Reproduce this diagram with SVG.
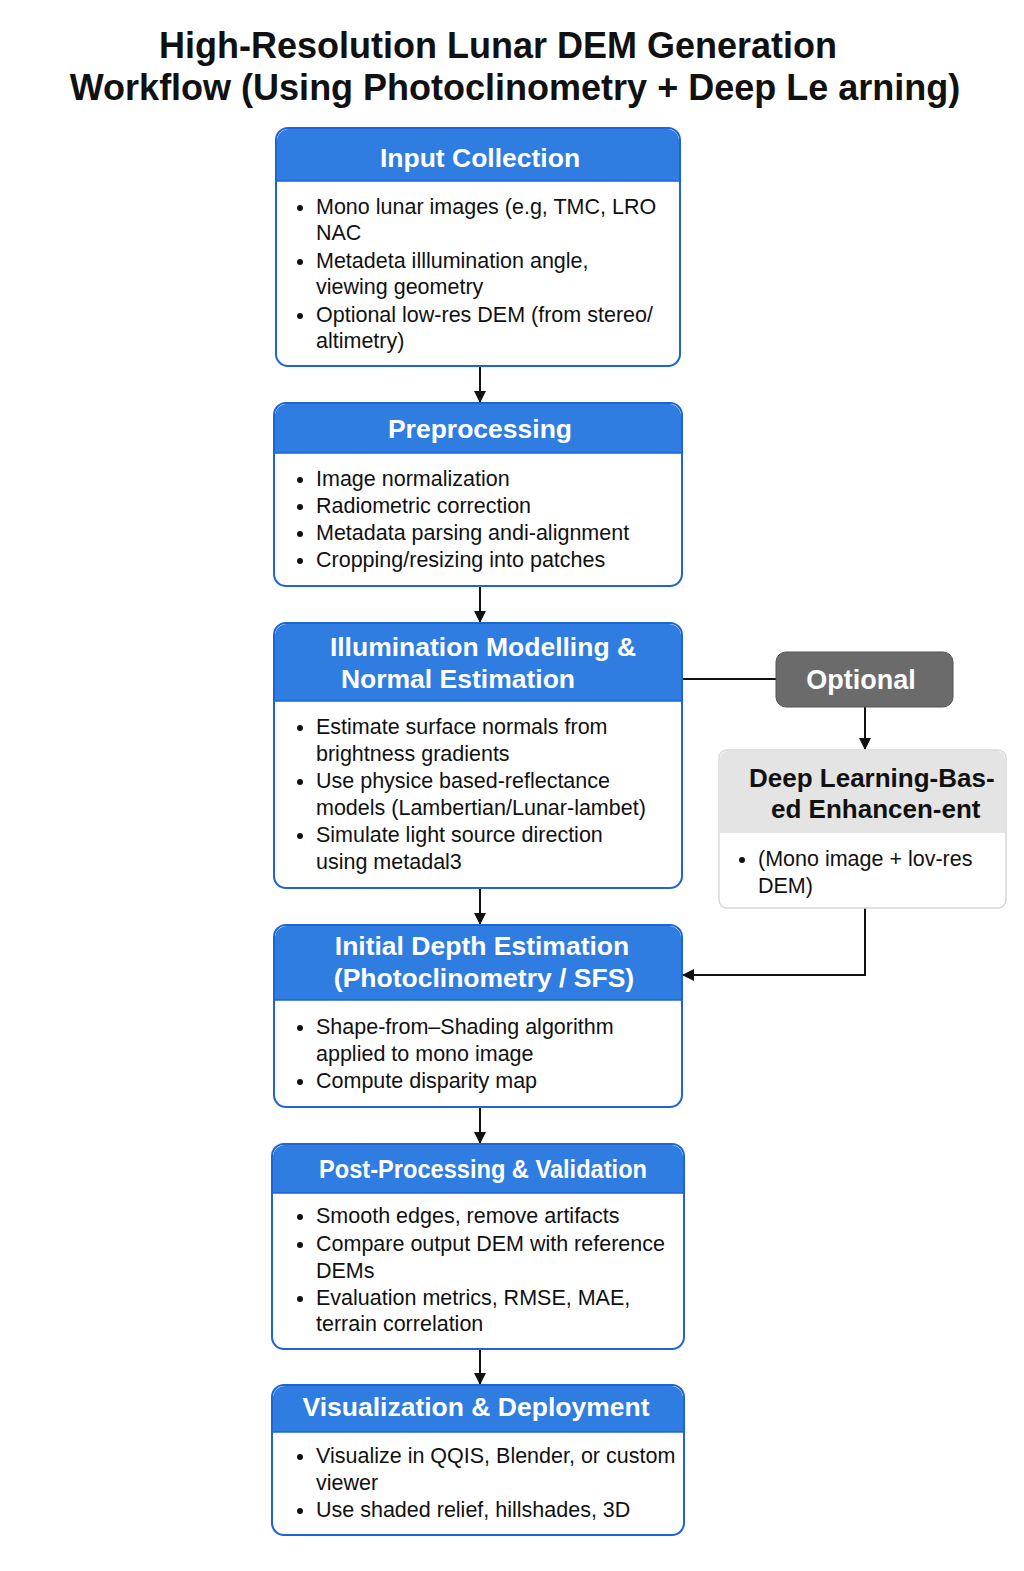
<svg xmlns="http://www.w3.org/2000/svg" width="1024" height="1571" viewBox="0 0 1024 1571">
<defs>
<marker id="arr" markerWidth="12" markerHeight="12" refX="11" refY="6" orient="auto" markerUnits="userSpaceOnUse">
<path d="M0,0 L12,6 L0,12 Z" fill="#111"/>
</marker>
</defs>
<style>
.title{font-family:"Liberation Sans",Arial,sans-serif;font-weight:bold;font-size:36px;fill:#111;}
.hdr{fill:#2f7de1;}
.box{fill:#fff;stroke:#1e63d8;stroke-width:2;}
.ht{font-family:"Liberation Sans",Arial,sans-serif;font-weight:bold;font-size:26.5px;fill:#fff;text-anchor:middle;}
.bt{font-family:"Liberation Sans",Arial,sans-serif;font-size:21.5px;fill:#111;}
.dot{fill:#111;}
.conn{stroke:#111;stroke-width:2;fill:none;}
.dlt{font-family:"Liberation Sans",Arial,sans-serif;font-weight:bold;font-size:26px;fill:#111;}
</style>
<rect width="1024" height="1571" fill="#fff"/>
<g id="title">
<text class="title" x="498" y="58" text-anchor="middle">High-Resolution Lunar DEM Generation</text>
<text class="title" x="515" y="100" text-anchor="middle">Workflow (Using Photoclinometry + Deep Le arning)</text>
</g>
<g id="connectors">
<line class="conn" x1="480" y1="366" x2="480" y2="402" marker-end="url(#arr)"/>
<line class="conn" x1="480" y1="586" x2="480" y2="622" marker-end="url(#arr)"/>
<line class="conn" x1="480" y1="888" x2="480" y2="924" marker-end="url(#arr)"/>
<line class="conn" x1="480" y1="1107" x2="480" y2="1143" marker-end="url(#arr)"/>
<line class="conn" x1="480" y1="1349" x2="480" y2="1384" marker-end="url(#arr)"/>
<line class="conn" x1="682" y1="679" x2="776" y2="679"/>
<line class="conn" x1="865" y1="707" x2="865" y2="749" marker-end="url(#arr)"/>
<polyline class="conn" points="865,908 865,975 683,975" marker-end="url(#arr)"/>
</g>
<g id="input-collection">
<rect class="box" x="276" y="128" width="404" height="238" rx="12"/>
<path class="hdr" d="M277,181 V141 A12,12 0 0 1 289,129 H667 A12,12 0 0 1 679,141 V181 Z"/>
<line x1="277" y1="181" x2="679" y2="181" stroke="#1e63d8" stroke-width="1.5"/>
<text class="ht" x="480" y="167">Input Collection</text>
<circle class="dot" cx="300" cy="208" r="3"/>
<text class="bt" x="316" y="214">Mono lunar images (e.g, TMC, LRO</text>
<text class="bt" x="316" y="240">NAC</text>
<circle class="dot" cx="300" cy="262" r="3"/>
<text class="bt" x="316" y="268">Metadeta illlumination angle,</text>
<text class="bt" x="316" y="294">viewing geometry</text>
<circle class="dot" cx="300" cy="316" r="3"/>
<text class="bt" x="316" y="322">Optional low-res DEM (from stereo/</text>
<text class="bt" x="316" y="348">altimetry)</text>
</g>
<g id="preprocessing">
<rect class="box" x="274" y="403" width="408" height="183" rx="12"/>
<path class="hdr" d="M275,453 V416 A12,12 0 0 1 287,404 H669 A12,12 0 0 1 681,416 V453 Z"/>
<line x1="275" y1="453" x2="681" y2="453" stroke="#1e63d8" stroke-width="1.5"/>
<text class="ht" x="480" y="438">Preprocessing</text>
<circle class="dot" cx="300" cy="480" r="3"/>
<text class="bt" x="316" y="486">Image normalization</text>
<circle class="dot" cx="300" cy="507" r="3"/>
<text class="bt" x="316" y="513">Radiometric correction</text>
<circle class="dot" cx="300" cy="534" r="3"/>
<text class="bt" x="316" y="540">Metadata parsing andi-alignment</text>
<circle class="dot" cx="300" cy="561" r="3"/>
<text class="bt" x="316" y="567">Cropping/resizing into patches</text>
</g>
<g id="illumination">
<rect class="box" x="274" y="623" width="408" height="265" rx="12"/>
<path class="hdr" d="M275,701 V636 A12,12 0 0 1 287,624 H669 A12,12 0 0 1 681,636 V701 Z"/>
<line x1="275" y1="701" x2="681" y2="701" stroke="#1e63d8" stroke-width="1.5"/>
<text class="ht" x="483" y="656">Illumination Modelling &amp;</text>
<text class="ht" x="458" y="688">Normal Estimation</text>
<circle class="dot" cx="300" cy="728" r="3"/>
<text class="bt" x="316" y="734">Estimate surface normals from</text>
<text class="bt" x="316" y="761">brightness gradients</text>
<circle class="dot" cx="300" cy="782" r="3"/>
<text class="bt" x="316" y="788">Use physice based-reflectance</text>
<text class="bt" x="316" y="815">models (Lambertian/Lunar-lambet)</text>
<circle class="dot" cx="300" cy="836" r="3"/>
<text class="bt" x="316" y="842">Simulate light source direction</text>
<text class="bt" x="316" y="869">using metadal3</text>
</g>
<g id="optional">
<rect x="776" y="652" width="177" height="55" rx="10" fill="#6b6b6b" stroke="#555" stroke-width="1"/>
<text class="ht" x="861" y="689" style="font-size:27px">Optional</text>
</g>
<g id="deep-learning">
<rect x="719" y="750" width="287" height="158" rx="8" fill="#fff" stroke="#d8d8d8" stroke-width="1.5"/>
<path d="M720,833 V758 A8,8 0 0 1 728,751 H997 A8,8 0 0 1 1005,758 V833 Z" fill="#e4e4e4"/>
<text class="dlt" x="749" y="787">Deep Learning-Bas-</text>
<text class="dlt" x="771" y="818">ed Enhancen-ent</text>
<circle class="dot" cx="742" cy="860" r="3"/>
<text class="bt" x="758" y="866">(Mono image + lov-res</text>
<text class="bt" x="758" y="893">DEM)</text>
</g>
<g id="initial-depth">
<rect class="box" x="274" y="925" width="408" height="182" rx="12"/>
<path class="hdr" d="M275,1000 V938 A12,12 0 0 1 287,926 H669 A12,12 0 0 1 681,938 V1000 Z"/>
<line x1="275" y1="1000" x2="681" y2="1000" stroke="#1e63d8" stroke-width="1.5"/>
<text class="ht" x="482" y="955">Initial Depth Estimation</text>
<text class="ht" x="484" y="987">(Photoclinometry / SFS)</text>
<circle class="dot" cx="300" cy="1028" r="3"/>
<text class="bt" x="316" y="1034">Shape-from–Shading algorithm</text>
<text class="bt" x="316" y="1061">applied to mono image</text>
<circle class="dot" cx="300" cy="1082" r="3"/>
<text class="bt" x="316" y="1088">Compute disparity map</text>
</g>
<g id="post-processing">
<rect class="box" x="272" y="1144" width="412" height="205" rx="12"/>
<path class="hdr" d="M273,1193 V1157 A12,12 0 0 1 285,1145 H671 A12,12 0 0 1 683,1157 V1193 Z"/>
<line x1="273" y1="1193" x2="683" y2="1193" stroke="#1e63d8" stroke-width="1.5"/>
<text class="ht" x="483" y="1178" textLength="328" lengthAdjust="spacingAndGlyphs">Post-Processing &amp; Validation</text>
<circle class="dot" cx="300" cy="1217" r="3"/>
<text class="bt" x="316" y="1223">Smooth edges, remove artifacts</text>
<circle class="dot" cx="300" cy="1245" r="3"/>
<text class="bt" x="316" y="1251">Compare output DEM with reference</text>
<text class="bt" x="316" y="1278">DEMs</text>
<circle class="dot" cx="300" cy="1299" r="3"/>
<text class="bt" x="316" y="1305">Evaluation metrics, RMSE, MAE,</text>
<text class="bt" x="316" y="1331">terrain correlation</text>
</g>
<g id="visualization">
<rect class="box" x="272" y="1385" width="412" height="150" rx="12"/>
<path class="hdr" d="M273,1432 V1398 A12,12 0 0 1 285,1386 H671 A12,12 0 0 1 683,1398 V1432 Z"/>
<line x1="273" y1="1432" x2="683" y2="1432" stroke="#1e63d8" stroke-width="1.5"/>
<text class="ht" x="476" y="1416">Visualization &amp; Deployment</text>
<circle class="dot" cx="300" cy="1457" r="3"/>
<text class="bt" x="316" y="1463">Visualize in QQIS, Blender, or custom</text>
<text class="bt" x="316" y="1490">viewer</text>
<circle class="dot" cx="300" cy="1511" r="3"/>
<text class="bt" x="316" y="1517">Use shaded relief, hillshades, 3D</text>
</g>
</svg>
